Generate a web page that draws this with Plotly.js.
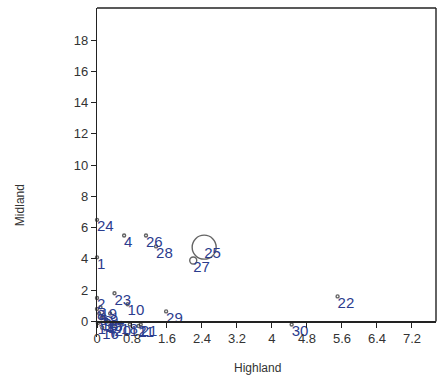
<!DOCTYPE html>
<html>
<head>
<meta charset="utf-8">
<script src="https://cdn.plot.ly/plotly-3.0.1.min.js"></script>
<style>
  html, body { margin: 0; padding: 0; background: #fff; }
  #chart { width: 440px; height: 381px; }
</style>
</head>
<body>
<div id="chart"></div>
<script>
// Case numbers, Highland (x) and Midland (y) values, bubble sizes
const caseLabels = ["1", "2", "3", "4", "5", "6", "7", "8", "9", "10",
                    "11", "12", "13", "14", "15", "16", "17", "18", "19", "20",
                    "21", "22", "23", "24", "25", "26", "27", "28", "29", "30"];
const highland = [0.0, 0.0, 7.76, 0.62, 0.05, 0.15, 0.3, 0.0, 0.3, 0.7,
                  0.95, 0.75, 0.1, 0.02, 0.2, 0.12, 0.25, 0.55, 0.08, 0.4,
                  1.0, 5.5, 0.4, 0.0, 2.45, 1.12, 2.2, 1.35, 1.58, 4.45];
const midland = [4.1, 1.5, 10.45, 5.5, 0.5, 0.4, -0.3, 0.8, 0.5, 1.1,
                 -0.3, -0.2, 0.2, -0.1, 0.1, -0.4, 0.0, -0.1, 0.9, -0.2,
                 -0.2, 1.6, 1.8, 6.5, 4.75, 5.5, 3.9, 4.8, 0.64, -0.2];
const bubbleSize = [3, 3, 3, 3, 3, 3, 3, 3, 3, 3,
                    3, 3, 3, 3, 3, 3, 3, 3, 3, 3,
                    3, 3, 3, 3, 24, 3, 7, 3, 3, 3];

// Axis ticks
const xTickVals = [0, 0.8, 1.6, 2.4, 3.2, 4, 4.8, 5.6, 6.4, 7.2];
const xTickText = ["0", "0.8", "1.6", "2.4", "3.2", "4", "4.8", "5.6", "6.4", "7.2"];
const yTickVals = [0, 2, 4, 6, 8, 10, 12, 14, 16, 18];
const yTickText = ["0", "2", "4", "6", "8", "10", "12", "14", "16", "18"];

const xRange = [0, 7.75];
const yRange = [-1.0, 20.06];
const fontFam = "Liberation Sans, Arial, sans-serif";
const axisFont = {family: fontFam, size: 13, color: "#333"};
const lineCol = "#222";

const bubbles = {
  type: "scatter",
  mode: "markers",
  x: highland,
  y: midland,
  marker: {
    symbol: "circle-open",
    size: bubbleSize,
    color: "#222",
    line: {width: 1.4, color: "#222"}
  },
  cliponaxis: false,
  hoverinfo: "skip"
};

const labels = {
  type: "scatter",
  mode: "text",
  x: highland,
  y: midland,
  text: caseLabels,
  textposition: "bottom right",
  textfont: {family: fontFam, size: 15, color: "#2b3c8e"},
  marker: {size: 2},
  cliponaxis: false,
  hoverinfo: "skip"
};

const xPos = (0 - yRange[0]) / (yRange[1] - yRange[0]);

const layout = {
  width: 440,
  height: 381,
  margin: {l: 97, r: 4, t: 8, b: 44},
  paper_bgcolor: "#fff",
  plot_bgcolor: "#fff",
  showlegend: false,
  xaxis: {
    range: xRange,
    anchor: "free",
    position: xPos,
    tickvals: xTickVals,
    ticktext: xTickText,
    ticks: "outside",
    ticklen: 5,
    tickcolor: lineCol,
    showline: true,
    linecolor: lineCol,
    linewidth: 1.2,
    showgrid: false,
    zeroline: false,
    tickfont: axisFont
  },
  yaxis: {
    range: yRange,
    tickvals: yTickVals,
    ticktext: yTickText,
    ticks: "outside",
    ticklen: 5,
    tickcolor: lineCol,
    showline: true,
    linecolor: lineCol,
    linewidth: 1.2,
    showgrid: false,
    zeroline: false,
    tickfont: axisFont
  },
  shapes: [
    {type: "line", xref: "paper", yref: "paper", x0: 0, x1: 1, y0: 1, y1: 1,
     line: {color: lineCol, width: 1.4}},
    {type: "line", xref: "paper", yref: "y", x0: 1, x1: 1, y0: 0, y1: yRange[1],
     line: {color: lineCol, width: 1.4}}
  ],
  annotations: [
    {text: "Highland", xref: "paper", yref: "paper", x: 0.472, y: -0.094,
     xanchor: "center", yanchor: "middle",
     showarrow: false, font: {family: fontFam, size: 12, color: "#333"}},
    {text: "Midland", xref: "paper", yref: "paper", x: -0.225, y: 0.40, textangle: -90,
     xanchor: "center", yanchor: "middle",
     showarrow: false, font: {family: fontFam, size: 12, color: "#333"}}
  ]
};

Plotly.newPlot("chart", [bubbles, labels], layout, {staticPlot: true, displayModeBar: false});
</script>
</body>
</html>
